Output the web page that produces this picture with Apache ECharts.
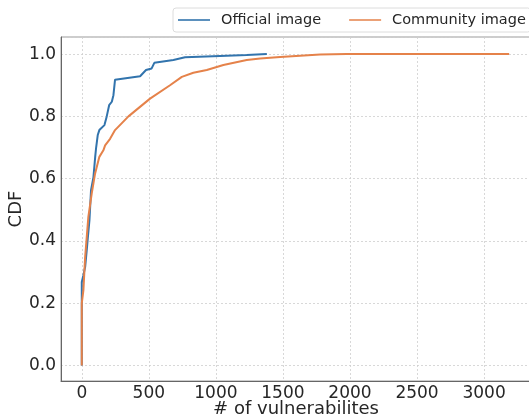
<!DOCTYPE html>
<html>
<head>
<meta charset="utf-8">
<script src="https://cdn.jsdelivr.net/npm/echarts@6/dist/echarts.min.js"></script>
<style>
  html, body { margin: 0; padding: 0; background: #fff; }
  #main { width: 529px; height: 417px; }
</style>
</head>
<body>
<div id="main"></div>
<script>
var myChart = echarts.init(document.getElementById('main'));

// CDF points: [# of vulnerabilities, CDF]
var officialImage = [
    [0, 0.0], [0, 0.268], [12, 0.29], [25, 0.316], [37, 0.37], [45, 0.41],
    [57, 0.466], [69, 0.563], [87, 0.605], [100, 0.67], [107, 0.70], [119, 0.74],
    [131, 0.756], [169, 0.772], [186, 0.80], [204, 0.836], [224, 0.847],
    [236, 0.868], [248, 0.918], [256, 0.922], [435, 0.929], [479, 0.949],
    [521, 0.954], [541, 0.972], [683, 0.981], [770, 0.99], [1031, 0.994],
    [1230, 0.997], [1380, 1.0]
];
var communityImage = [
    [0, 0.0], [0, 0.2], [12, 0.241], [25, 0.348], [49, 0.477], [74, 0.552],
    [99, 0.616], [131, 0.67], [161, 0.691], [174, 0.707], [211, 0.728],
    [248, 0.756], [348, 0.80], [509, 0.857], [658, 0.90], [746, 0.927],
    [832, 0.94], [932, 0.949], [1056, 0.965], [1230, 0.981], [1330, 0.986],
    [1479, 0.991], [1628, 0.995], [1777, 0.999], [1976, 1.0], [3187, 1.0]
];
var seriesNames = ['Official image', 'Community image'];
var xTickStep = 500;
var yTickStep = 0.2;

function onStep(v, step) {
    var r = v / step;
    return Math.abs(r - Math.round(r)) < 1e-6;
}

var font = 'DejaVu Sans';
var lineIcon = 'path://M0,0 L32,0 L32,1.6 L0,1.6 Z';

var option = {
    backgroundColor: '#fff',
    animation: false,
    color: ['#3274ad', '#e5824a'],
    legend: {
        data: [
            { name: seriesNames[0], icon: lineIcon },
            { name: seriesNames[1], icon: lineIcon }
        ],
        orient: 'horizontal',
        left: 173,
        top: 8,
        width: 420,
        padding: [4, 5, 4, 5],
        itemWidth: 32,
        itemHeight: 14,
        itemGap: 28,
        backgroundColor: 'rgba(255,255,255,0.8)',
        borderColor: '#dcdcdc',
        borderWidth: 1,
        borderRadius: 3,
        textStyle: {
            fontFamily: font,
            fontSize: 14.5,
            color: '#262626',
            lineHeight: 16,
            padding: [0, 0, 0, 6]
        }
    },
    grid: {
        left: 61,
        top: 37,
        right: -2,
        bottom: 36,
        outerBoundsMode: 'none',
        containLabel: false,
        show: true,
        borderColor: '#9a9a9a',
        borderWidth: 1
    },
    xAxis: {
        type: 'value',
        min: -155,
        max: 3350,
        splitNumber: 7,
        name: '# of vulnerabilites',
        nameLocation: 'middle',
        nameGap: 19,
        nameMoveOverlap: false,
        nameTextStyle: { fontFamily: font, fontSize: 18, color: '#262626' },
        axisLine: { show: true, onZero: false, lineStyle: { color: '#666', width: 1 } },
        axisTick: { show: false },
        axisLabel: {
            margin: 4,
            fontFamily: font,
            fontSize: 17,
            color: '#262626',
            showMinLabel: false,
            formatter: function (v) { return onStep(v, xTickStep) ? String(v) : ''; }
        },
        splitLine: { show: true, lineStyle: { color: '#cfcfcf', type: [2, 2], width: 0.8 } }
    },
    yAxis: {
        type: 'value',
        min: -0.05,
        max: 1.055,
        splitNumber: 5,
        name: 'CDF',
        nameLocation: 'middle',
        nameGap: 36,
        nameMoveOverlap: false,
        nameTextStyle: { fontFamily: font, fontSize: 18, color: '#262626' },
        axisLine: { show: true, onZero: false, lineStyle: { color: '#666', width: 1 } },
        axisTick: { show: false },
        axisLabel: {
            margin: 5,
            fontFamily: font,
            fontSize: 17,
            color: '#262626',
            showMinLabel: false,
            showMaxLabel: false,
            formatter: function (v) { return onStep(v, yTickStep) ? v.toFixed(1) : ''; }
        },
        splitLine: { show: true, lineStyle: { color: '#cfcfcf', type: [2, 2], width: 0.8 } }
    },
    series: [
        {
            name: seriesNames[0],
            type: 'line',
            data: officialImage,
            symbol: 'none',
            lineStyle: { width: 2 }
        },
        {
            name: seriesNames[1],
            type: 'line',
            data: communityImage,
            symbol: 'none',
            lineStyle: { width: 2 }
        }
    ]
};
myChart.setOption(option);
</script>
</body>
</html>
